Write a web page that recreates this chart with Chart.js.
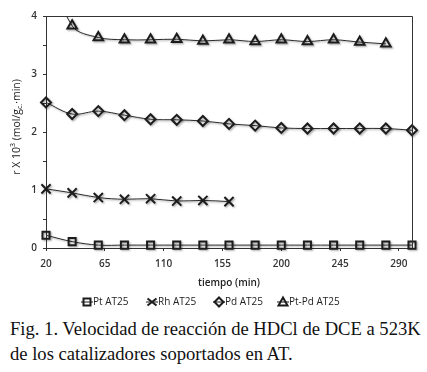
<!DOCTYPE html>
<html>
<head>
<meta charset="utf-8">
<script src="https://cdn.jsdelivr.net/npm/chart.js@4.4.1/dist/chart.umd.min.js"></script>
<style>
  html, body { margin: 0; padding: 0; background: #fff; }
  #wrap { position: relative; width: 427px; height: 372px; overflow: hidden; }
  #box { position: absolute; left: 0; top: 0; width: 427px; height: 312px; }
  #caption {
    position: absolute; left: 10px; top: 316px; width: 420px;
    font-family: "Liberation Serif", "Times New Roman", serif;
    font-size: 18.6px; line-height: 25px; color: #111; white-space: nowrap;
  }
</style>
</head>
<body>
<div id="wrap">
  <div id="box"><canvas id="myChart"></canvas></div>
  <div id="caption">Fig. 1. Velocidad de reacción de HDCl de DCE a 523K<br>de los catalizadores soportados en AT.</div>
</div>
<script>
// tiempo (min)
const tiempo = [20, 40, 60, 80, 100, 120, 140, 160, 180, 200, 220, 240, 260, 280, 300];
const xTicks = [20, 65, 110, 155, 200, 245, 290];

// r x 10^3 (mol/gc.min)
const ptAT25 = [0.22, 0.11, 0.05, 0.05, 0.05, 0.05, 0.05, 0.05, 0.05, 0.05, 0.05, 0.05, 0.05, 0.05, 0.05];
const rhAT25 = [1.02, 0.95, 0.87, 0.84, 0.85, 0.81, 0.82, 0.80];
const pdAT25 = [2.51, 2.31, 2.36, 2.29, 2.22, 2.21, 2.19, 2.14, 2.11, 2.07, 2.06, 2.06, 2.06, 2.06, 2.03];
// first value is off the top of the axis (curve enters from above)
const ptpdAT25 = [5.0, 3.83, 3.63, 3.59, 3.59, 3.60, 3.57, 3.59, 3.56, 3.59, 3.56, 3.59, 3.55, 3.52];

const labels_ = ['Pt AT25', 'Rh AT25', 'Pd AT25', 'Pt-Pd AT25'];

const INK = '#1c1c1c';
const FONT = '"Open Sans", "Noto Sans", sans-serif';

function pts(arr) {
    return arr.map((v, i) => ({ x: tiempo[i], y: v }));
}

function mkSet(label, arr, style, radius) {
    return {
        label: label,
        data: pts(arr),
        borderColor: '#2a2a2a',
        borderWidth: 1,
        tension: 0.35,
        clip: 10,
        pointStyle: style,
        pointRadius: radius,
        pointBorderWidth: 2,
        pointBorderColor: INK,
        pointBackgroundColor: 'rgba(0,0,0,0)'
    };
}

const sets = [
    mkSet(labels_[0], ptAT25, 'rect', 5),
    mkSet(labels_[1], rhAT25, 'crossRot', 6.5),
    mkSet(labels_[2], pdAT25, 'rectRot', 5),
    mkSet(labels_[3], ptpdAT25, 'triangle', 5.5)
];
// hide the marker of the clipped point, clip the curve at the top
sets[3].pointRadius = ptpdAT25.map((v, i) => i === 0 ? 0 : 5.5);
sets[3].clip = { left: 10, right: 10, top: 0, bottom: 10 };

// shadow under lines/markers, like the excel look
const shadowPlugin = {
    id: 'shadow',
    beforeDatasetsDraw(chart) {
        const c = chart.ctx;
        c.save();
        c.shadowColor = 'rgba(0,0,0,0.35)';
        c.shadowBlur = 2;
        c.shadowOffsetX = 1.2;
        c.shadowOffsetY = 1.2;
    },
    afterDatasetsDraw(chart) {
        chart.ctx.restore();
    }
};

function legendMarker(c, style, x, y) {
    c.save();
    c.strokeStyle = INK;
    c.lineWidth = 1;
    c.beginPath();
    c.moveTo(x - 6, y);
    c.lineTo(x + 6, y);
    c.stroke();
    c.lineWidth = 2;
    c.beginPath();
    if (style === 'rect') {
        c.rect(x - 3.5, y - 3.5, 7, 7);
    } else if (style === 'crossRot') {
        c.moveTo(x - 4.5, y - 3.5); c.lineTo(x + 4.5, y + 3.5);
        c.moveTo(x - 4.5, y + 3.5); c.lineTo(x + 4.5, y - 3.5);
    } else if (style === 'rectRot') {
        c.moveTo(x, y - 4.5); c.lineTo(x + 4.5, y); c.lineTo(x, y + 4.5); c.lineTo(x - 4.5, y); c.closePath();
    } else {
        c.moveTo(x, y - 4.5); c.lineTo(x + 4.5, y + 3.5); c.lineTo(x - 4.5, y + 3.5); c.closePath();
    }
    c.stroke();
    c.restore();
}

// frame, axis titles and legend
const decoPlugin = {
    id: 'deco',
    afterDraw(chart) {
        const c = chart.ctx;
        const a = chart.chartArea;
        c.save();
        c.strokeStyle = '#333';
        c.lineWidth = 1;
        c.beginPath();
        c.moveTo(a.left, a.top + 0.5);
        c.lineTo(a.right + 0.5, a.top + 0.5);
        c.lineTo(a.right + 0.5, a.bottom);
        c.stroke();

        // x title
        c.fillStyle = '#222';
        c.font = '600 10px ' + FONT;
        c.textAlign = 'center';
        c.textBaseline = 'middle';
        c.fillText('tiempo (min)', 229, 283);

        // y title with super/subscript
        c.translate(17, 127);
        c.rotate(-Math.PI / 2);
        const parts = [
            ['r X 10', 10.5, 0],
            ['3', 7, -4],
            [' (mol/g', 10.5, 0],
            ['c.', 7, 3],
            ['\u00b7min)', 10.5, 0]
        ];
        let w = 0;
        parts.forEach(p => { c.font = '400 ' + p[1] + 'px ' + FONT; w += c.measureText(p[0]).width; });
        let x = -w / 2;
        c.textAlign = 'left';
        parts.forEach(p => {
            c.font = '400 ' + p[1] + 'px ' + FONT;
            c.fillText(p[0], x, p[2]);
            x += c.measureText(p[0]).width;
        });
        c.restore();

        // legend
        const styles = ['rect', 'crossRot', 'rectRot', 'triangle'];
        const mx = [87, 152, 219, 283];
        c.save();
        c.fillStyle = '#222';
        c.font = '400 10px ' + FONT;
        c.textBaseline = 'middle';
        for (let i = 0; i < 4; i++) {
            legendMarker(c, styles[i], mx[i], 302);
            c.fillText(labels_[i], mx[i] + 6, 302);
        }
        c.restore();
    }
};

const ctx = document.getElementById('myChart').getContext('2d');
const myChart = new Chart(ctx, {
    type: 'line',
    data: { datasets: sets },
    options: {
        animation: false,
        responsive: true,
        maintainAspectRatio: false,
        layout: { padding: { top: 16, right: 15, left: 0, bottom: 0 } },
        plugins: {
            legend: { display: false },
            tooltip: { enabled: false }
        },
        scales: {
            x: {
                type: 'linear',
                min: 20,
                max: 300,
                afterBuildTicks: (s) => { s.ticks = xTicks.map(v => ({ value: v })); },
                afterFit: (s) => { s.height = 64; },
                grid: { drawOnChartArea: false, tickLength: 3, color: '#333' },
                border: { color: '#333', width: 1 },
                ticks: {
                    padding: 7,
                    maxRotation: 0,
                    autoSkip: false,
                    color: '#333',
                    font: { family: FONT, size: 10, weight: '600' }
                }
            },
            y: {
                min: 0,
                max: 4,
                afterFit: (s) => { s.width = 46; },
                grid: { drawOnChartArea: false, tickLength: 3, color: '#333' },
                border: { color: '#333', width: 1 },
                ticks: {
                    stepSize: 0.5,
                    padding: 6,
                    color: '#333',
                    font: { family: FONT, size: 10, weight: '600' },
                    callback: (v) => Number.isInteger(v) ? v : ''
                }
            }
        }
    },
    plugins: [shadowPlugin, decoPlugin]
});
</script>
</body>
</html>
